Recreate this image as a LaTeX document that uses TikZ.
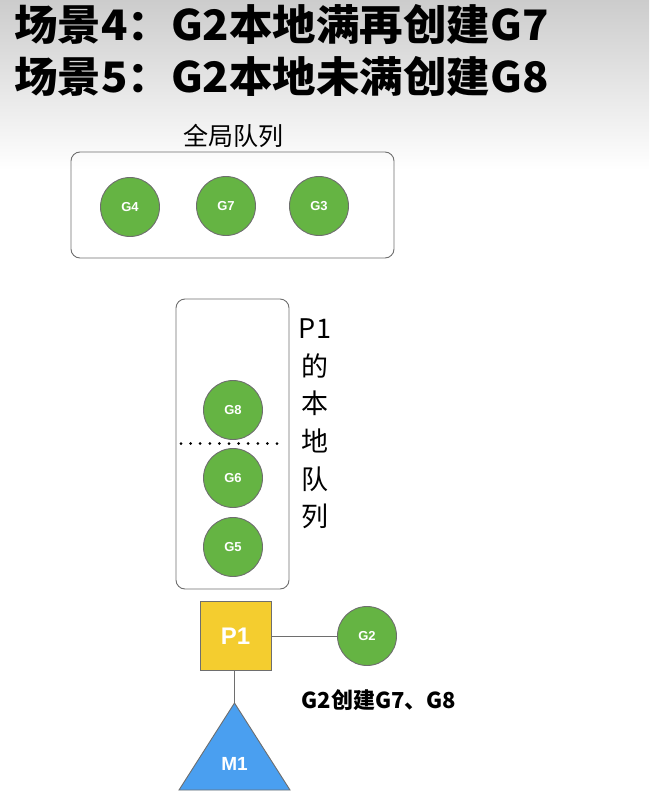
\documentclass[tikz,border=0pt]{standalone}
\usepackage{fontspec}
\setmainfont{Liberation Sans}
\newfontfamily\cjk{Noto Sans CJK SC}
\definecolor{ggreen}{HTML}{65B443}
\definecolor{pyellow}{HTML}{F4CD2F}
\definecolor{mblue}{HTML}{4A9FF0}
\definecolor{edgegray}{HTML}{6E6E6E}
\tikzset{
  gnode/.style={circle, draw=edgegray, line width=0.9pt, fill=ggreen, minimum size=59pt, inner sep=0pt,
    text=white, font=\bfseries\fontsize{13}{13}\selectfont},
  queuebox/.style={draw=edgegray, line width=0.9pt, rounded corners=9pt},
  pnode/.style={rectangle, draw=edgegray, line width=0.9pt, fill=pyellow, minimum width=71pt, minimum height=69pt,
    inner sep=0pt, text=white, font=\bfseries\fontsize{24}{24}\selectfont},
  conn/.style={draw=edgegray, line width=0.9pt},
  title/.style={anchor=west, inner sep=0pt, xscale=1.035, font=\cjk\bfseries\fontsize{42}{42}\selectfont},
}
\begin{document}
\begin{tikzpicture}[x=1pt,y=-1pt]
\useasboundingbox (0,0) rectangle (649,808);
\shade[top color=black!20, bottom color=white] (0,0) rectangle (649,170);
% titles
\node[title] (t1) at (14,24) {场景4：G2本地满再创建G7};
\node[title] (t2) at (14,76) {场景5：G2本地未满创建G8};
% global queue
\node[font=\cjk\fontsize{25}{25}\selectfont, inner sep=0pt] (gql) at (233,136) {全局队列};
\draw[queuebox] (71,152) rectangle (394,258);
\node[gnode] (g4) at (130,207) {G4};
\node[gnode] (g7) at (226,206) {G7};
\node[gnode] (g3) at (319,206) {G3};
% local queue
\draw[queuebox] (176,299) rectangle (289,589);
\node[gnode] (g8) at (233,410) {G8};
\draw[line width=3pt, dash pattern=on 0pt off 9.6pt, line cap=round] (181,443.5) -- (277,443.5);
\node[gnode] (g6) at (233,478) {G6};
\node[gnode] (g5) at (233,547) {G5};
\node[align=center, inner sep=0pt, font=\cjk\fontsize{27}{37.6}\selectfont] (lql) at (315,424) {P1\\的\\本\\地\\队\\列};
% P1, G2, M1
\node[pnode] (p1) at (235.5,636) {P1};
\node[gnode] (g2) at (367,636) {G2};
\draw[conn] (p1.east) -- (g2.west);
\coordinate (m1top) at (234.5,703);
\draw[draw=edgegray, line width=0.9pt, fill=mblue] (m1top) -- (290,790) -- (179,790) -- cycle;
\node[text=white, font=\bfseries\fontsize{19}{19}\selectfont] (m1) at (234.5,764) {M1};
\draw[conn] (p1.south -| m1top) -- (m1top);
\node[font=\cjk\bfseries\fontsize{22}{22}\selectfont, inner sep=0pt] (lbl) at (379,700) {G2创建G7、G8};
\end{tikzpicture}
\end{document}
